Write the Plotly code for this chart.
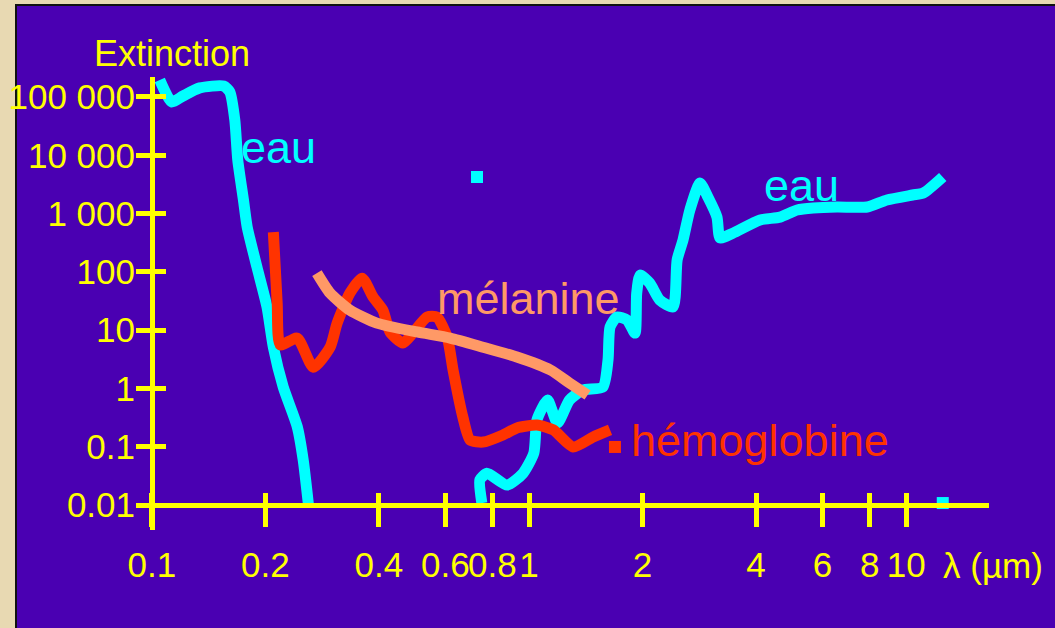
import plotly.graph_objects as go

# ---------------- data ----------------
# Water (eau), ultraviolet part
eau_uv_wl = [0.105, 0.113, 0.121, 0.134, 0.155, 0.161, 0.166, 0.169, 0.175, 0.179,
             0.190, 0.202, 0.210, 0.223, 0.243, 0.252, 0.260]
eau_uv_ext = [195000, 82000, 104000, 143000, 154000, 122000, 40000, 8300, 1700, 590,
              121, 25, 5.1, 1.06, 0.22, 0.059, 0.0105]

# Water (eau), visible / infrared part
eau_ir_wl = [0.750, 0.741, 0.774, 0.875, 0.964, 1.03, 1.05, 1.12, 1.19, 1.28,
             1.39, 1.57, 1.62, 1.64, 1.71, 1.82, 1.91, 1.93, 1.97, 2.09,
             2.22, 2.41, 2.47, 2.56, 2.67, 2.84, 2.98, 3.15, 3.21, 3.47,
             4.10, 4.63, 5.14, 5.67, 6.56, 7.88, 8.89, 10.4, 11.1, 12.5]
eau_ir_ext = [0.0108, 0.027, 0.035, 0.022, 0.035, 0.078, 0.29, 0.63, 0.255, 0.63,
              0.94, 1.06, 3.08, 11.3, 16.8, 14.9, 8.9, 43, 88, 64,
              33, 25, 160, 350, 1150, 3340, 1920, 870, 380, 460,
              775, 870, 1150, 1245, 1295, 1295, 1710, 2080, 2250, 4240]

# Haemoglobin
hemo_wl = [0.210, 0.215, 0.219, 0.243, 0.268, 0.297, 0.310, 0.335, 0.361, 0.386,
           0.410, 0.428, 0.463, 0.492, 0.537, 0.570, 0.607, 0.629, 0.668, 0.698,
           0.755, 0.853, 0.929, 1.05, 1.16, 1.31, 1.48, 1.64]
hemo_ext = [480, 29, 5.6, 7.3, 2.3, 5.1, 13.2, 43, 78, 37,
            22, 9.3, 6.0, 8.9, 16.8, 16.8, 7.6, 2.07, 0.32, 0.13,
            0.12, 0.159, 0.21, 0.235, 0.194, 0.099, 0.147, 0.194]

# Melanin
mel_wl = [0.274, 0.297, 0.335, 0.395, 0.505, 0.618, 0.755, 0.929, 1.14, 1.28, 1.43]
mel_ext = [95, 43, 22, 13.2, 9.3, 7.3, 5.1, 3.46, 2.07, 1.24, 0.77]

# stray square markers
cyan_sq_wl = [0.728, 12.5]
cyan_sq_ext = [4240, 0.0108]
red_sq_wl = [1.69]
red_sq_ext = [0.099]

# axis ticks
x_tick_vals = [0.1, 0.2, 0.4, 0.6, 0.8, 1, 2, 4, 6, 8, 10]
x_tick_text = ["0.1", "0.2", "0.4", "0.6", "0.8", "1", "2", "4", "6", "8", "10"]
y_tick_vals = [0.01, 0.1, 1, 10, 100, 1000, 10000, 100000]
y_tick_text = ["0.01", "0.1", "1", "10", "100", "1 000", "10 000", "100 000"]

# ---------------- styling ----------------
W, H = 1055, 628
FONT = "Liberation Sans, Arial, sans-serif"
BG = "#4A00B2"
BEIGE = "#E8D9B2"
YEL = "#FFFF00"
CYAN = "#00FFFF"
RED = "#FF3300"
SALMON = "#FF9966"

X_RANGE = [-1.03658, 1.21951]
Y_RANGE = [-2.4289, 5.3426]
X_DOM = [138 / W, 989 / W]
Y_DOM = [(H - 530) / H, (H - 77) / H]
X_POS = (H - 505) / H
Y_POS = 152 / W

fig = go.Figure()

line_kw = dict(shape="spline", smoothing=0.6, width=11)
fig.add_trace(go.Scatter(x=eau_uv_wl, y=eau_uv_ext, mode="lines",
                         line=dict(color=CYAN, **line_kw), name="eau"))
fig.add_trace(go.Scatter(x=eau_ir_wl, y=eau_ir_ext, mode="lines",
                         line=dict(color=CYAN, **line_kw), name="eau"))
fig.add_trace(go.Scatter(x=hemo_wl, y=hemo_ext, mode="lines",
                         line=dict(color=RED, **line_kw), name="hémoglobine"))
fig.add_trace(go.Scatter(x=mel_wl, y=mel_ext, mode="lines",
                         line=dict(color=SALMON, **line_kw), name="mélanine"))
fig.add_trace(go.Scatter(x=cyan_sq_wl, y=cyan_sq_ext, mode="markers",
                         marker=dict(color=CYAN, symbol="square", size=12)))
fig.add_trace(go.Scatter(x=red_sq_wl, y=red_sq_ext, mode="markers",
                         marker=dict(color=RED, symbol="square", size=12)))
# empty trace to create the overlay subplot (crossing ticks)
fig.add_trace(go.Scatter(x=[], y=[], xaxis="x2", yaxis="y2", hoverinfo="skip"))

axis_font = dict(family=FONT, size=35, color=YEL)

fig.update_layout(
    width=W, height=H, autosize=False,
    margin=dict(l=0, r=0, t=0, b=0, pad=0),
    paper_bgcolor=BEIGE,
    plot_bgcolor="rgba(0,0,0,0)",
    showlegend=False,
    font=dict(family=FONT, color=YEL),
    xaxis=dict(type="log", range=X_RANGE, domain=X_DOM, anchor="free", position=X_POS,
               showgrid=False, zeroline=False, showline=True, linecolor=YEL, linewidth=5,
               ticks="outside", ticklen=19, tickwidth=5, tickcolor=YEL, tickangle=0,
               tickvals=x_tick_vals, ticktext=x_tick_text, tickfont=axis_font,
               ticklabelstandoff=8, automargin=False),
    yaxis=dict(type="log", range=Y_RANGE, domain=Y_DOM, anchor="free", position=Y_POS,
               showgrid=False, zeroline=False, showline=True, linecolor=YEL, linewidth=5,
               ticks="outside", ticklen=14, tickwidth=5, tickcolor=YEL,
               tickvals=y_tick_vals, ticktext=y_tick_text, tickfont=axis_font,
               ticklabelstandoff=-6, automargin=False),
    xaxis2=dict(type="log", range=X_RANGE, domain=X_DOM, anchor="free", position=X_POS,
                overlaying="x", showgrid=False, zeroline=False, showline=False,
                ticks="inside", ticklen=12, tickwidth=5, tickcolor=YEL,
                tickvals=x_tick_vals, showticklabels=False),
    yaxis2=dict(type="log", range=Y_RANGE, domain=Y_DOM, anchor="free", position=Y_POS,
                overlaying="y", showgrid=False, zeroline=False, showline=False,
                ticks="inside", ticklen=13, tickwidth=5, tickcolor=YEL,
                tickvals=y_tick_vals, showticklabels=False),
    shapes=[
        dict(type="rect", xref="paper", yref="paper", layer="below",
             x0=16 / W, x1=1.01, y0=-0.01, y1=(H - 5) / H,
             fillcolor=BG, line=dict(color="#111111", width=2)),
    ],
)

def label(text, px, py, color, size):
    fig.add_annotation(text=text, xref="paper", yref="paper",
                       x=px / W, y=(H - py) / H, xanchor="center", yanchor="middle",
                       showarrow=False, font=dict(family=FONT, size=size, color=color))

label("Extinction", 172, 54, YEL, 36)
label("eau", 278, 148, CYAN, 45)
label("eau", 801, 185, CYAN, 45)
label("mélanine", 528, 298, SALMON, 45)
label("hémoglobine", 760, 440, RED, 45)
label("λ (µm)", 993, 565, YEL, 35)

fig.write_html("out.html", config={"displayModeBar": False},
               post_script="document.body.style.margin='0';document.body.style.overflow='hidden';")
